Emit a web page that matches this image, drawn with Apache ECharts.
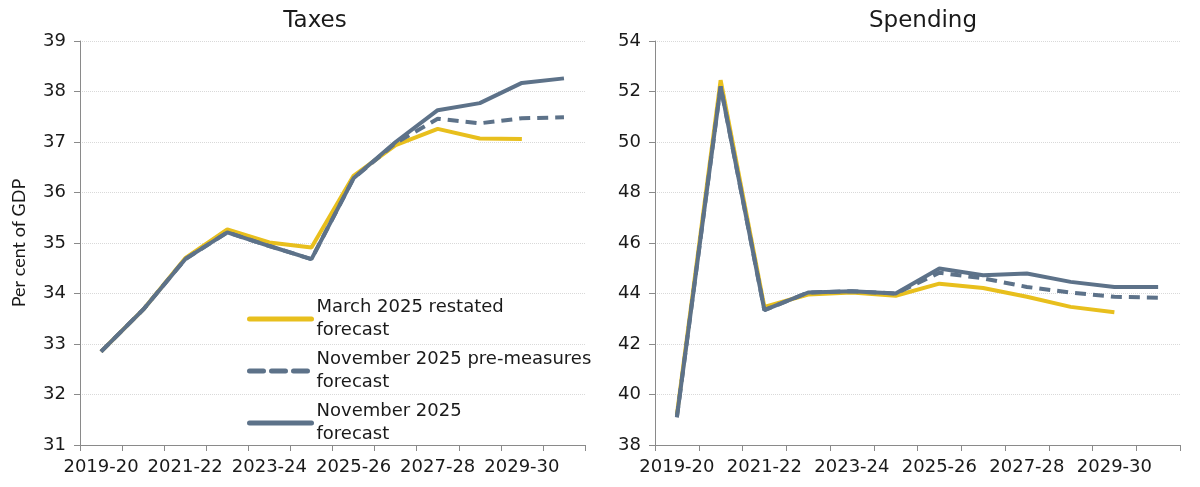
<!DOCTYPE html>
<html>
<head>
<meta charset="utf-8">
<script src="https://cdn.jsdelivr.net/npm/echarts@6/dist/echarts.min.js"></script>
<style>
  html, body { margin: 0; padding: 0; background: #fff; }
  #chart { width: 1200px; height: 487px; }
</style>
</head>
<body>
<div id="chart"></div>
<script>
// years on both panels
const years = ['2019-20', '2020-21', '2021-22', '2022-23', '2023-24', '2024-25',
  '2025-26', '2026-27', '2027-28', '2028-29', '2029-30', '2030-31'];

// Taxes, per cent of GDP
const taxMarch = [32.85, 33.68, 34.7, 35.27, 35.01, 34.91, 36.33, 36.94, 37.26, 37.07, 37.06, null];
const taxPre = [32.85, 33.68, 34.68, 35.21, 34.94, 34.68, 36.28, 36.98, 37.46, 37.37, 37.47, 37.49];
const taxNov = [32.85, 33.68, 34.68, 35.21, 34.94, 34.68, 36.28, 37.0, 37.63, 37.77, 38.17, 38.26];

// Spending, per cent of GDP
const spendMarch = [39.2, 52.45, 43.47, 43.96, 44.04, 43.91, 44.39, 44.22, 43.87, 43.47, 43.26, null];
const spendPre = [39.1, 52.2, 43.34, 44.04, 44.09, 44.0, 44.82, 44.6, 44.26, 44.04, 43.87, 43.83];
const spendNov = [39.1, 52.2, 43.34, 44.04, 44.09, 44.0, 44.99, 44.72, 44.79, 44.46, 44.26, 44.26];

const names = ['March 2025 restated\nforecast', 'November 2025 pre-measures\nforecast', 'November 2025\nforecast'];
const yellow = '#E8BF1D';
const slate = '#5D7289';
const font = 'DejaVu Sans';
const txt = '#1a1a1a';

const chart = echarts.init(document.getElementById('chart'));

function xAx(gi) {
  return {
    type: 'category', gridIndex: gi, data: years, boundaryGap: true,
    axisLine: { lineStyle: { color: '#8a8a8a', width: 1 } },
    axisTick: { show: true, interval: 0, length: 6, lineStyle: { color: '#8a8a8a' } },
    axisLabel: { interval: 1, color: txt, fontSize: 18, fontFamily: font, margin: 13 }
  };
}
function yAx(gi, min, max, step, name) {
  return {
    type: 'value', gridIndex: gi, min: min, max: max, interval: step,
    name: name || '', nameLocation: 'middle', nameGap: 52, nameRotate: 90,
    nameTextStyle: { color: txt, fontSize: 18, fontFamily: 'Lato' },
    axisLine: { show: true, lineStyle: { color: '#8a8a8a', width: 1 } },
    axisTick: { show: true, length: 6, lineStyle: { color: '#8a8a8a' } },
    axisLabel: { color: txt, fontSize: 18, fontFamily: font, margin: 14 },
    splitLine: { show: true, lineStyle: { color: '#d9d9d9', type: 'dotted' } }
  };
}
function line(name, data, color, dashed, gi, z) {
  return {
    name: name, type: 'line', data: data, xAxisIndex: gi, yAxisIndex: gi,
    symbol: 'none', z: z, connectNulls: false,
    lineStyle: { color: color, width: 4, type: dashed ? [11, 7] : 'solid' },
    itemStyle: { color: color }
  };
}

chart.setOption({
  animation: false,
  backgroundColor: '#fff',
  title: [
    { text: 'Taxes', left: 310, top: 5, textAlign: 'center',
      textStyle: { fontSize: 23, fontWeight: 'normal', color: txt, fontFamily: font } },
    { text: 'Spending', left: 918, top: 5, textAlign: 'center',
      textStyle: { fontSize: 23, fontWeight: 'normal', color: txt, fontFamily: font } }
  ],
  grid: [
    { left: 80, right: 615, top: 41, bottom: 42 },
    { left: 655, right: 20, top: 41, bottom: 42 }
  ],
  legend: {
    orient: 'vertical', left: 242, top: 291, itemWidth: 62, itemHeight: 14, itemGap: 6,
    data: [
      { name: names[0] },
      { name: names[1], lineStyle: { type: [14, 8] } },
      { name: names[2] }
    ],
    itemStyle: { opacity: 0 },
    lineStyle: { width: 5, cap: 'round' },
    textStyle: { color: txt, fontSize: 18, fontFamily: font, lineHeight: 23 }
  },
  xAxis: [xAx(0), xAx(1)],
  yAxis: [yAx(0, 31, 39, 1, 'Per cent of GDP'), yAx(1, 38, 54, 2)],
  series: [
    line(names[0], taxMarch, yellow, false, 0, 2),
    line(names[1], taxPre, slate, true, 0, 3),
    line(names[2], taxNov, slate, false, 0, 4),
    line(names[0], spendMarch, yellow, false, 1, 2),
    line(names[1], spendPre, slate, true, 1, 3),
    line(names[2], spendNov, slate, false, 1, 4)
  ]
});
</script>
</body>
</html>
